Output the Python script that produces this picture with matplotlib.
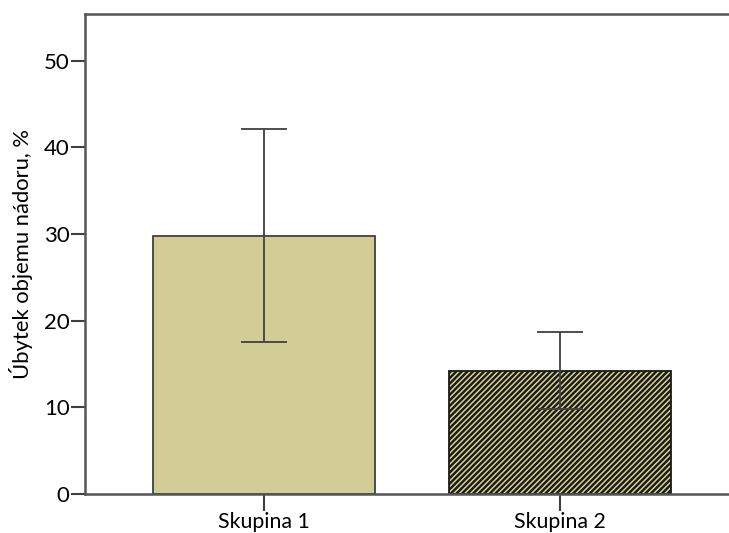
import matplotlib
matplotlib.use('Agg')
import matplotlib.pyplot as plt

groups = ['Skupina 1', 'Skupina 2']
loss_mean = [29.8, 14.25]
loss_err = [12.3, 4.45]
hatches = ['', '//////']

plt.rcParams['font.family'] = ['Lato', 'DejaVu Sans']
plt.rcParams['hatch.linewidth'] = 1.7

fig = plt.figure(figsize=(7.29, 5.33), dpi=100)
ax = fig.add_axes([85 / 729, 39 / 533, 1 - 85 / 729, 480 / 533])

line_col = '#404040'
pos = list(range(len(groups)))
for x, val, h in zip(pos, loss_mean, hatches):
    edge = '#1a1a12' if h else line_col
    ax.bar(x, val, width=0.75, color='#D2CD97', edgecolor=edge,
           linewidth=1.3, hatch=h, zorder=2)
ax.errorbar(pos, loss_mean, yerr=loss_err, fmt='none', ecolor=line_col,
            elinewidth=1.3, capsize=16.5, capthick=1.3, zorder=3)

ax.set_xlim(-0.605, 1.57)
ax.set_ylim(0, 55.4)
ax.set_yticks([0, 10, 20, 30, 40, 50])
ax.set_xticks(pos)
ax.set_xticklabels(groups)
ax.set_ylabel('Úbytek objemu nádoru, %', fontsize=15.8, labelpad=8)
ax.tick_params(axis='y', length=10, width=1.5, color=line_col, labelsize=16, pad=1)
ax.tick_params(axis='x', length=12, width=1.5, color=line_col, labelsize=15.3, pad=1)
for s in ['left', 'bottom', 'top']:
    ax.spines[s].set_color('#555555')
    ax.spines[s].set_linewidth(1.8)
ax.spines['right'].set_visible(False)

fig.savefig('out.png', dpi=100)
